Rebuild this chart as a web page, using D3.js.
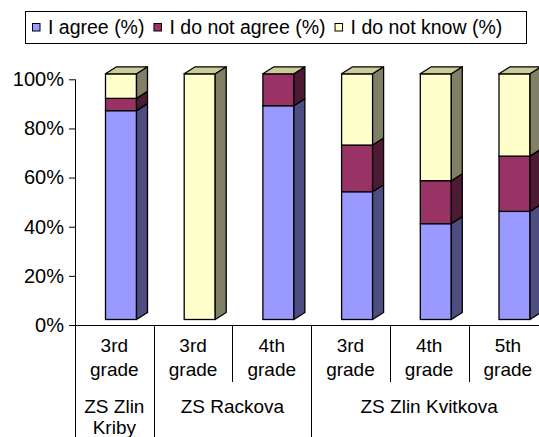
<!DOCTYPE html>
<html>
<head>
<meta charset="utf-8">
<script src="https://cdn.jsdelivr.net/npm/d3@7/dist/d3.min.js"></script>
<style>
  body { margin: 0; background: #fff; }
  text { font-family: "Liberation Sans", Arial, sans-serif; fill: #000; }
</style>
</head>
<body>
<script>
// data
var grades = ["3rd grade", "3rd grade", "4th grade", "3rd grade", "4th grade", "5th grade"];
var schools = ["ZS Zlin Kriby", "ZS Rackova", "ZS Zlin Kvitkova"];
var schoolSpan = [1, 2, 3];
var agree = [85, 0, 87, 52, 39, 44];
var disagree = [5, 0, 13, 19, 17.5, 22.5];
var dontKnow = [10, 100, 0, 29, 43.5, 33.5];
var seriesNames = ["I agree (%)", "I do not agree (%)", "I do not know (%)"];
var yTicks = [0, 20, 40, 60, 80, 100];

var svgWidth = 539;
var svgHeight = 437;

var front = ["#9999ff", "#993366", "#ffffcc"];
var side = ["#4d4d80", "#4d1a33", "#808066"];
var topColor = "#cccc99";

// 3d depth of the columns
var dx = 11, dy = 7, lift = 5.5;

var svg = d3.select("body")
  .append("svg")
  .attr("width", svgWidth)
  .attr("height", svgHeight);

var x = d3.scaleBand()
  .domain(d3.range(grades.length))
  .range([75, 75 + 6 * 78.7]);

var y = d3.scaleLinear()
  .domain([0, 100])
  .range([325, 79.3]);

var barW = 31, barOff = 30.5;

// stack the three series
var rows = grades.map(function(g, i) {
  return { i: i, v: [agree[i], disagree[i], dontKnow[i]] };
});

var bars = svg.append("g");
rows.forEach(function(r) {
  var x0 = x(r.i) + barOff;
  var x1 = x0 + barW;
  var base = 0;
  var g = bars.append("g");
  r.v.forEach(function(v, s) {
    if (v <= 0) return;
    var yb = y(base) - lift;
    var yt = y(base + v) - lift;
    g.append("rect")
      .attr("x", x0).attr("y", yt)
      .attr("width", barW).attr("height", yb - yt)
      .attr("fill", front[s])
      .attr("stroke", "#000").attr("stroke-width", 1.3);
    g.append("path")
      .attr("d", "M" + x1 + "," + yb + "L" + x1 + "," + yt + "L" + (x1 + dx) + "," + (yt - dy) +
        "L" + (x1 + dx) + "," + (yb - dy) + "Z")
      .attr("fill", side[s])
      .attr("stroke", "#000").attr("stroke-width", 1.3)
      .attr("stroke-linejoin", "round");
    base += v;
  });
  var yt = y(base) - lift;
  g.append("path")
    .attr("d", "M" + x0 + "," + yt + "L" + (x0 + dx) + "," + (yt - dy) + "L" + (x1 + dx) + "," + (yt - dy) +
      "L" + x1 + "," + yt + "Z")
    .attr("fill", topColor)
    .attr("stroke", "#000").attr("stroke-width", 1.3)
    .attr("stroke-linejoin", "round");
});

// value axis
var leftAxis = d3.axisLeft(y)
  .tickValues(yTicks)
  .tickSize(6)
  .tickPadding(5)
  .tickFormat(function(d) { return d + "%"; });

var yAxisG = svg.append("g")
  .attr("transform", "translate(75,0)")
  .call(leftAxis);
yAxisG.select(".domain").remove();
yAxisG.selectAll("line").attr("stroke", "#000");
yAxisG.selectAll("text")
  .style("font-size", "20px")
  .style("font-family", "'Liberation Sans', Arial, sans-serif");

var axisLines = svg.append("g").attr("stroke", "#000").attr("stroke-width", 1);
axisLines.append("line")
  .attr("x1", 75.5).attr("x2", 75.5).attr("y1", y(100)).attr("y2", svgHeight);
axisLines.append("line")
  .attr("x1", 69).attr("x2", svgWidth).attr("y1", 325.5).attr("y2", 325.5);

// grade separators (short) and school separators (long)
var start = 0;
var groupEdges = [0];
schoolSpan.forEach(function(n) { start += n; groupEdges.push(start); });
d3.range(1, grades.length).forEach(function(i) {
  var isGroup = groupEdges.indexOf(i) >= 0;
  var xx = Math.round(x(i)) + 0.5;
  axisLines.append("line")
    .attr("x1", xx).attr("x2", xx)
    .attr("y1", 325).attr("y2", isGroup ? svgHeight : 382);
});

// grade labels
var gradeLabels = svg.append("g").style("font-size", "19px").attr("text-anchor", "middle");
grades.forEach(function(g, i) {
  var parts = g.split(" ");
  var t = gradeLabels.append("text")
    .attr("x", x(i) + x.bandwidth() / 2)
    .attr("y", 352);
  t.append("tspan").attr("x", x(i) + x.bandwidth() / 2).text(parts[0]);
  t.append("tspan").attr("x", x(i) + x.bandwidth() / 2).attr("dy", 24).text(parts[1]);
});

// school labels
var schoolLabels = svg.append("g").style("font-size", "19px").attr("text-anchor", "middle");
schools.forEach(function(s, k) {
  var a = groupEdges[k], b = groupEdges[k + 1];
  var cx = (x(a) + x(b - 1) + x.bandwidth()) / 2;
  var t = schoolLabels.append("text").attr("x", cx).attr("y", 413);
  if (schoolSpan[k] == 1) {
    var w = s.split(" ");
    t.append("tspan").attr("x", cx).text(w.slice(0, 2).join(" "));
    t.append("tspan").attr("x", cx).attr("dy", 21).text(w.slice(2).join(" "));
  } else {
    t.text(s);
  }
});

// legend
var legend = svg.append("g");
legend.append("rect")
  .attr("x", 25.5).attr("y", 11.5)
  .attr("width", 501).attr("height", 32)
  .attr("fill", "#fff").attr("stroke", "#000");
var lx = 32;
seriesNames.forEach(function(name, s) {
  legend.append("rect")
    .attr("x", lx + 0.5).attr("y", 23.5)
    .attr("width", 7.5).attr("height", 7.5)
    .attr("fill", front[s]).attr("stroke", "#000");
  var t = legend.append("text")
    .attr("x", lx + 16).attr("y", 34)
    .style("font-size", "19.5px")
    .text(name);
  lx = lx + 16 + t.node().getComputedTextLength() + 9;
});
</script>
</body>
</html>
